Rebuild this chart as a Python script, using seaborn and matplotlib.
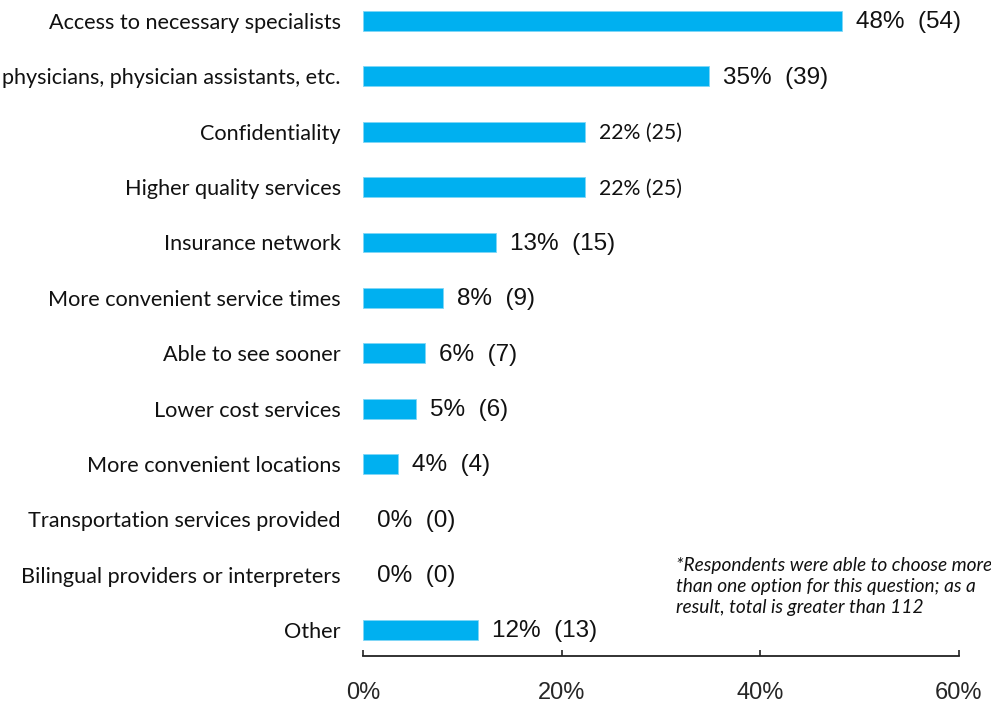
import matplotlib
matplotlib.use("Agg")
import matplotlib.pyplot as plt
import seaborn as sns
import pandas as pd

# Survey responses (multiple answers allowed, n = 112)
categories = [
    "Access to necessary specialists",
    "physicians, physician assistants, etc.",
    "Confidentiality",
    "Higher quality services",
    "Insurance network",
    "More convenient service times",
    "Able to see sooner",
    "Lower cost services",
    "More convenient locations",
    "Transportation services provided",
    "Bilingual providers or interpreters",
    "Other",
]
counts = [54, 39, 25, 25, 15, 9, 7, 6, 4, 0, 0, 13]
total_respondents = 112
x_ticks = [0, 20, 40, 60]
x_tick_labels = ["0%", "20%", "40%", "60%"]
note = ("*Respondents were able to choose more\n"
        "than one option for this question; as a\n"
        "result, total is greater than 112")

df = pd.DataFrame({"category": categories, "count": counts})
df["pct"] = df["count"] / total_respondents * 100

sns.set_style("white")
plt.rcParams["font.family"] = ["Liberation Sans", "DejaVu Sans"]

W, H = 991, 703
fig = plt.figure(figsize=(W / 100, H / 100), dpi=100)
ax = fig.add_axes([363 / W, (H - 656) / H, 596 / W, 656 / H])

bar_color = "#00B0F0"
sns.barplot(data=df, x="pct", y="category", orient="h", color=bar_color,
            width=0.36, saturation=1, edgecolor="#7fd6f6", linewidth=0.6, ax=ax)
# no outline on empty bars
for patch in ax.patches:
    if patch.get_width() == 0:
        patch.set_linewidth(0)

ax.set_xlim(0, 60)
ax.set_ylim(11.47, -0.38)
ax.set_xlabel("")
ax.set_ylabel("")

ax.set_xticks(x_ticks)
ax.set_xticklabels(x_tick_labels, fontsize=17, family="Liberation Sans")
ax.tick_params(axis="x", direction="in", length=4.5, width=1.2, color="#222222",
               pad=19, bottom=True)
ax.tick_params(axis="y", length=0, pad=16)
for lbl in ax.get_yticklabels():
    lbl.set_family(["Lato", "DejaVu Sans"])
    lbl.set_fontsize(15.6)
    lbl.set_color("#111111")

for side in ["top", "right", "left"]:
    ax.spines[side].set_visible(False)
ax.spines["bottom"].set_color("#222222")
ax.spines["bottom"].set_linewidth(1.3)

# Value labels: percentage of respondents and raw count
for i, (pct, n) in enumerate(zip(df["pct"], df["count"])):
    if n == 25:
        txt = f"{pct:.0f}% ({n})"
        kw = dict(family=["Lato", "DejaVu Sans"], fontsize=15.3)
    else:
        txt = f"{pct:.0f}%  ({n})"
        kw = dict(family="Liberation Sans", fontsize=17.5)
    ax.annotate(txt, xy=(pct, i), xytext=(10, -1), textcoords="offset points",
                va="center", ha="left", color="#111111", **kw)

fig.text(676 / W, 1 - 557 / H, note, ha="left", va="top",
         family=["Lato", "DejaVu Sans"], style="italic", fontsize=13.8,
         linespacing=1.3, color="#111111")

fig.savefig("out.png", dpi=100)
